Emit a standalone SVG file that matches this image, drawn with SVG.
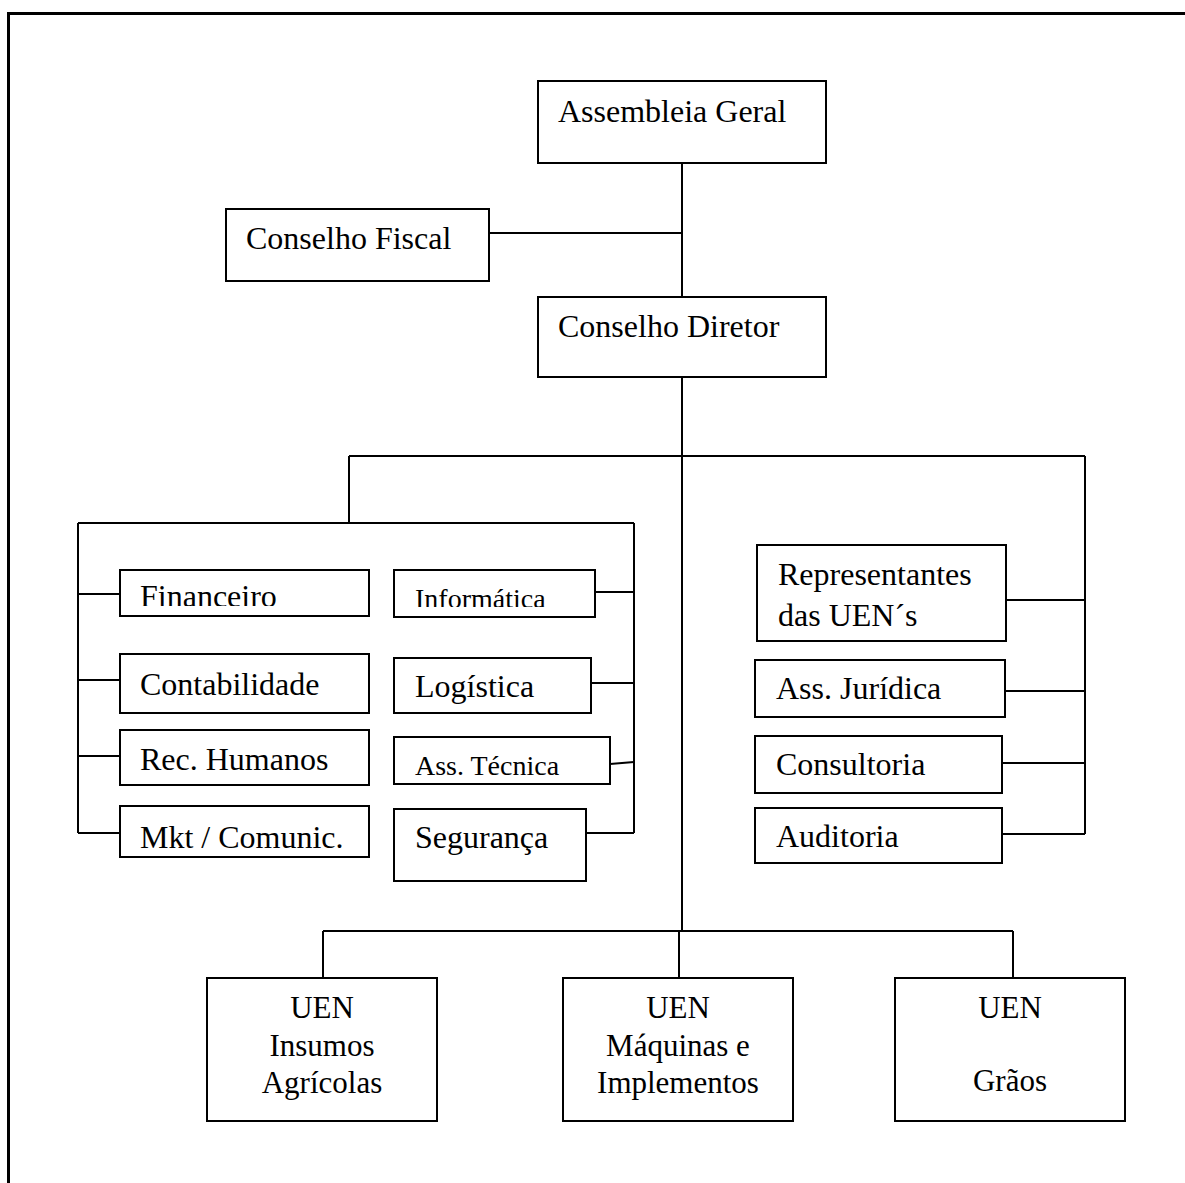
<svg xmlns="http://www.w3.org/2000/svg" width="1185" height="1183" viewBox="0 0 1185 1183">
<style>
.box{fill:#fff;stroke:#000;stroke-width:2}
.t{font-family:"Liberation Serif","Times New Roman",serif;font-size:32px;fill:#000}
.s{font-size:28px}
.b{font-size:31px;text-anchor:middle}
.c{fill:none;stroke:#000;stroke-width:2}
</style>
<defs>
<clipPath id="clipFin"><rect x="120" y="570" width="249" height="36"/></clipPath>
<clipPath id="clipInf"><rect x="394" y="570" width="201" height="37"/></clipPath>
</defs>
<rect width="1185" height="1183" fill="#fff"/>
<path d="M8.5 1183 V13.5 H1185" fill="none" stroke="#000" stroke-width="3"/>
<g id="connectors" class="c">
<path d="M682 163 V297 M489 233 H682 M682 377 V930"/>
<path d="M349 456 H1085 M349 456 V523 M1085 456 V834"/>
<path d="M78 523 H634 M78 523 V833 M634 523 V833"/>
<path d="M78 594 H120 M78 680 H120 M78 756 H120 M78 833 H120"/>
<path d="M595 592 H634 M591 683 H634 M610 764 L634 762 M586 833 H634"/>
<path d="M1006 600 H1085 M1005 691 H1085 M1002 763 H1085 M1002 834 H1085"/>
<path d="M323 931 H1013 M323 931 V978 M679 931 V978 M1013 931 V978"/>
</g>
<g id="assembleia"><rect class="box" x="538" y="81" width="288" height="82"/><text class="t" x="558" y="122">Assembleia Geral</text></g>
<g id="fiscal"><rect class="box" x="226" y="209" width="263" height="72"/><text class="t" x="246" y="249">Conselho Fiscal</text></g>
<g id="diretor"><rect class="box" x="538" y="297" width="288" height="80"/><text class="t" x="558" y="337">Conselho Diretor</text></g>
<g id="financeiro"><rect class="box" x="120" y="570" width="249" height="46"/><text class="t" x="140" y="607" clip-path="url(#clipFin)">Financeiro</text></g>
<g id="contabilidade"><rect class="box" x="120" y="654" width="249" height="59"/><text class="t" x="140" y="695">Contabilidade</text></g>
<g id="rh"><rect class="box" x="120" y="730" width="249" height="55"/><text class="t" x="140" y="770">Rec. Humanos</text></g>
<g id="mkt"><rect class="box" x="120" y="806" width="249" height="51"/><text class="t" x="140" y="848">Mkt / Comunic.</text></g>
<g id="informatica"><rect class="box" x="394" y="570" width="201" height="47"/><text class="t s" x="415" y="608" clip-path="url(#clipInf)">Informática</text></g>
<g id="logistica"><rect class="box" x="394" y="658" width="197" height="55"/><text class="t" x="415" y="697">Logística</text></g>
<g id="asstecnica"><rect class="box" x="394" y="737" width="216" height="47"/><text class="t s" x="415" y="775">Ass. Técnica</text></g>
<g id="seguranca"><rect class="box" x="394" y="809" width="192" height="72"/><text class="t" x="415" y="848">Segurança</text></g>
<g id="representantes"><rect class="box" x="757" y="545" width="249" height="96"/><text class="t" x="778" y="585">Representantes</text><text class="t" x="778" y="626">das UEN´s</text></g>
<g id="juridica"><rect class="box" x="755" y="660" width="250" height="57"/><text class="t" x="776" y="699">Ass. Jurídica</text></g>
<g id="consultoria"><rect class="box" x="755" y="736" width="247" height="57"/><text class="t" x="776" y="775">Consultoria</text></g>
<g id="auditoria"><rect class="box" x="755" y="808" width="247" height="55"/><text class="t" x="776" y="847">Auditoria</text></g>
<g id="uen-insumos"><rect class="box" x="207" y="978" width="230" height="143"/><text class="t b" x="322" y="1018">UEN</text><text class="t b" x="322" y="1056">Insumos</text><text class="t b" x="322" y="1093">Agrícolas</text></g>
<g id="uen-maquinas"><rect class="box" x="563" y="978" width="230" height="143"/><text class="t b" x="678" y="1018">UEN</text><text class="t b" x="678" y="1056">Máquinas e</text><text class="t b" x="678" y="1093">Implementos</text></g>
<g id="uen-graos"><rect class="box" x="895" y="978" width="230" height="143"/><text class="t b" x="1010" y="1018">UEN</text><text class="t b" x="1010" y="1091">Grãos</text></g>
</svg>
